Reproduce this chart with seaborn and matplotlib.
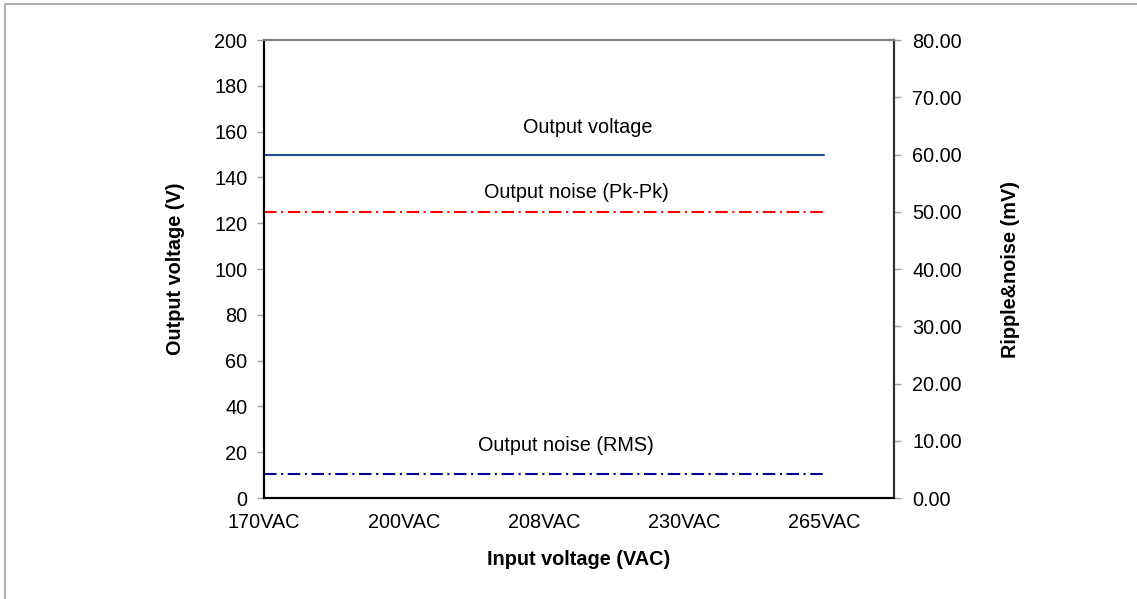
import numpy as np
import pandas as pd
import matplotlib
matplotlib.use("Agg")
import matplotlib.pyplot as plt
import seaborn as sns
from matplotlib.patches import Rectangle
from matplotlib.ticker import FormatStrFormatter, MultipleLocator

# ---------------------------------------------------------
# DATA
# ---------------------------------------------------------
input_voltage = ["170VAC", "200VAC", "208VAC", "230VAC", "265VAC"]
output_voltage = [150, 150, 150, 150, 150]          # V, left axis
noise_pkpk = [50.0, 50.0, 50.0, 50.0, 50.0]         # mV, right axis
noise_rms = [4.2, 4.2, 4.2, 4.2, 4.2]               # mV, right axis

# ---------------------------------------------------------
# STYLE
# ---------------------------------------------------------
sns.set_theme(style="white")
plt.rcParams['font.family'] = ['Liberation Sans', 'DejaVu Sans']
plt.rcParams['text.color'] = 'black'
plt.rcParams['axes.labelcolor'] = 'black'
FS = 14.3

fig = plt.figure(figsize=(11.37, 5.99), dpi=100)
ax = fig.add_axes([0.2322, 0.1686, 0.7863 - 0.2322, 0.9332 - 0.1686])
ax2 = ax.twinx()

# outer frame of the original chart area
fig.patches.append(Rectangle((5 / 1137, -0.05), 1.2, 1 - 4 / 599 + 0.05,
                             transform=fig.transFigure, fill=False,
                             edgecolor='#a0a0a0', linewidth=1.2))

sns.lineplot(x=input_voltage, y=output_voltage, ax=ax, sort=False,
             color='#1f4e8c', linewidth=1.5)
sns.lineplot(x=input_voltage, y=noise_pkpk, ax=ax2, sort=False,
             color='#ff0000', linewidth=1.5)
sns.lineplot(x=input_voltage, y=noise_rms, ax=ax2, sort=False,
             color='#000099', linewidth=1.5)
for ln in ax2.get_lines():
    ln.set_linestyle((0, (6, 2.2, 1, 2.2)))

ax.set_xlim(0, 4.5)
ax.set_ylim(0, 200)
ax2.set_ylim(0, 80)
ax.yaxis.set_major_locator(MultipleLocator(20))
ax2.yaxis.set_major_locator(MultipleLocator(10))
ax2.yaxis.set_major_formatter(FormatStrFormatter('%.2f'))

for a in (ax, ax2):
    a.grid(False)
    a.tick_params(axis='both', labelsize=FS, labelcolor='black', length=5, width=1,
                  direction='out', pad=7)
    a.tick_params(axis='y', color='#a0a0a0')
    a.spines['left'].set_color('black')
    a.spines['bottom'].set_color('black')
    a.spines['right'].set_color('#303030')
    a.spines['top'].set_color('#808080')
    for s in a.spines.values():
        s.set_linewidth(1.5)
ax.tick_params(axis='x', color='#606060', pad=6)
ax.tick_params(axis='y', left=True)
ax2.tick_params(axis='y', right=True, pad=8)

ax.set_xlabel("Input voltage (VAC)", fontsize=FS, fontweight='bold', labelpad=13)
ax.set_ylabel("Output voltage (V)", fontsize=FS, fontweight='bold', labelpad=21)
ax2.set_ylabel("Ripple&noise (mV)", fontsize=FS, fontweight='bold', labelpad=28)

ax.text(2.31, 161.6, "Output voltage", fontsize=FS, ha='center', va='center')
ax.text(2.23, 133.2, "Output noise (Pk-Pk)", fontsize=FS, ha='center', va='center')
ax.text(2.16, 23.1, "Output noise (RMS)", fontsize=FS, ha='center', va='center')

fig.savefig("out.png", dpi=100)
